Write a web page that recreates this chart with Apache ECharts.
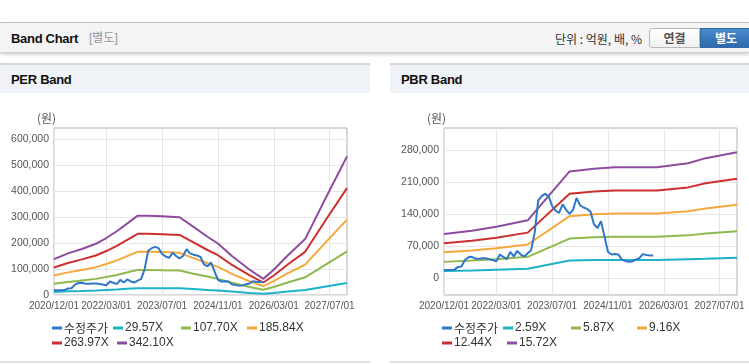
<!DOCTYPE html>
<html><head><meta charset="utf-8">
<script src="https://cdn.jsdelivr.net/npm/echarts@6/dist/echarts.min.js"></script>
<style>
html,body{margin:0;padding:0;background:#fff;}
body{width:749px;height:364px;overflow:hidden;position:relative;font-family:"Liberation Sans","Noto Sans CJK KR",sans-serif;}
.hdr{position:absolute;left:0;top:22px;width:749px;height:29px;background:#f4f4f4;border-top:1px solid #bdbdbd;border-bottom:1px solid #cfcfcf;box-shadow:0 2px 3px rgba(0,0,0,0.16);}
.ttl{position:absolute;left:11px;top:0;line-height:31px;font-size:13px;font-weight:bold;color:#111;letter-spacing:-0.3px;}
.sub{position:absolute;left:89px;top:0;line-height:31px;font-size:12px;color:#999;}
.unit{position:absolute;right:107px;top:0;line-height:31px;font-size:12px;color:#333;font-family:"Noto Sans CJK KR","Liberation Sans",sans-serif;}
.btn{position:absolute;top:5px;height:20px;box-sizing:border-box;text-align:center;line-height:18px;font-size:12px;font-weight:bold;font-family:"Noto Sans CJK KR",sans-serif;}
.b1{left:649px;width:51px;border:1px solid #b9b9b9;border-radius:3px 0 0 3px;background:linear-gradient(#ffffff,#f1f1f1);color:#555;}
.b2{left:700px;width:52px;border:1px solid #2f6aa9;background:linear-gradient(#4a8acd,#2c69ad);color:#fff;}
.panel{position:absolute;top:63px;width:370px;height:296px;border-top:2px solid #d6d6d6;border-bottom:2px solid #e0e0e0;background:#fff;}
.phead{position:absolute;left:0;top:0;width:370px;height:28px;background:#eff2f7;font-weight:bold;font-size:13px;line-height:29px;color:#111;letter-spacing:-0.3px;}
.phead span{padding-left:11px;}
.chart{position:absolute;left:0;top:28px;width:370px;height:268px;}
</style>
</head>
<body>
<div class="hdr">
  <span class="ttl">Band Chart</span><span class="sub">[별도]</span>
  <span class="unit">단위 : 억원, 배, %</span>
  <div class="btn b1">연결</div><div class="btn b2">별도</div>
</div>
<div class="panel" style="left:0;"><div class="phead"><span>PER Band</span></div><div class="chart" id="per"></div></div>
<div class="panel" style="left:390px;"><div class="phead"><span>PBR Band</span></div><div class="chart" id="pbr"></div></div>
<script>
// ---- categories (monthly) ----
const months = [
 '2020/12/01',
 '2021/01/01','2021/02/01','2021/03/01','2021/04/01','2021/05/01','2021/06/01','2021/07/01','2021/08/01','2021/09/01','2021/10/01','2021/11/01','2021/12/01',
 '2022/01/01','2022/02/01','2022/03/01','2022/04/01','2022/05/01','2022/06/01','2022/07/01','2022/08/01','2022/09/01','2022/10/01','2022/11/01','2022/12/01',
 '2023/01/01','2023/02/01','2023/03/01','2023/04/01','2023/05/01','2023/06/01','2023/07/01','2023/08/01','2023/09/01','2023/10/01','2023/11/01','2023/12/01',
 '2024/01/01','2024/02/01','2024/03/01','2024/04/01','2024/05/01','2024/06/01','2024/07/01','2024/08/01','2024/09/01','2024/10/01','2024/11/01','2024/12/01',
 '2025/01/01','2025/02/01','2025/03/01','2025/04/01','2025/05/01','2025/06/01','2025/07/01','2025/08/01','2025/09/01','2025/10/01','2025/11/01','2025/12/01',
 '2026/01/01','2026/02/01','2026/03/01','2026/04/01','2026/05/01','2026/06/01','2026/07/01','2026/08/01','2026/09/01','2026/10/01','2026/11/01','2026/12/01',
 '2027/01/01','2027/02/01','2027/03/01','2027/04/01','2027/05/01','2027/06/01','2027/07/01','2027/08/01','2027/09/01','2027/10/01','2027/11/01','2027/12/01'
];
const xTickLabels = ['2020/12/01','2022/03/01','2023/07/01','2024/11/01','2026/03/01','2027/07/01'];

// ---- adjusted price (수정주가), monthly from 2020/12 ----
const price = [18000,18000,18000,19000,25000,26000,40000,46000,47000,43000,
  43000,44000,44000,42000,40000,37000,52000,47000,42000,58000,
  48000,60000,52000,48000,55000,62000,100000,170000,180000,185000,
  180000,158000,148000,143000,162000,150000,141000,150000,176000,160000,
  155000,152000,146000,118000,110000,125000,92000,58000,52000,53000,
  52000,41000,38000,36000,37000,41000,44000,53000,51000,50000,50000];

// ---- PER band ----
const perNames = ['29.57X','107.70X','185.84X','263.97X','342.10X'];
const perKnotDates = ['2020/12/01','2021/04/01','2021/08/01','2021/12/01','2022/03/01','2022/06/01','2022/10/01','2022/12/01','2023/03/01','2023/07/01','2023/12/01','2024/04/01','2024/08/01','2024/11/01','2025/03/01','2025/08/01','2025/12/01','2026/03/01','2026/07/01','2026/12/01','2027/06/01','2027/12/01'];
const per30  = [12000,14000,15000,17000,19000,21000,25000,26000,26000,26000,26000,23000,19000,17000,13000,8000,5000,8000,13000,19000,33000,46000];
const per108 = [43000,50000,56000,62000,69000,77000,90000,96000,96000,95000,94000,82000,71000,62000,47000,31000,20000,31000,48000,68000,118000,168000];
const per186 = [75000,87000,96000,107000,119000,133000,155000,166000,166000,165000,162000,142000,122000,108000,81000,53000,34000,53000,83000,117000,204000,290000];
const per264 = [106000,123000,137000,152000,169000,189000,220000,235000,235000,234000,231000,202000,173000,153000,116000,76000,48000,75000,117000,166000,290000,411000];
const per342 = [138000,160000,177000,197000,219000,245000,285000,305000,305000,303000,299000,262000,224000,198000,150000,98000,62000,97000,152000,215000,376000,533000];
const perYTicks = [0,100000,200000,300000,400000,500000,600000];

// ---- PBR band ----
const pbrNames = ['2.59X','5.87X','9.16X','12.44X','15.72X'];
const pbrKnotDates = ['2020/12/01','2021/08/01','2022/03/01','2022/12/01','2023/12/01','2024/07/01','2025/01/01','2026/01/01','2026/10/01','2027/03/01','2027/12/01'];
const pbr259  = [16000,17000,19000,21000,39000,40000,40000,40000,42000,43000,45000];
const pbr587  = [36000,39000,42000,47000,87000,90000,91000,91000,94000,98000,103000];
const pbr916  = [57000,61000,66000,74000,136000,140000,142000,142000,147000,153000,161000];
const pbr1244 = [77000,82000,89000,100000,185000,190000,192000,192000,199000,208000,218000];
const pbr1572 = [97000,104000,113000,127000,234000,240000,243000,243000,252000,263000,276000];
const pbrYTicks = [0,70000,140000,210000,280000];

const priceName = '수정주가';
const bandColors = ['#1cb2c8','#8db84e','#f5a83c','#cf2e2e','#8e4c9e'];
const priceColor = '#2f78c9';
const FONT = '"Liberation Sans", Arial, sans-serif';
const KFONT = '"Noto Sans CJK KR", "Liberation Sans", sans-serif';

function zip(dates, vals){ return dates.map((d,i)=>[d, vals[i]]); }

function build(names, dates, bands, yMin, yMax, yTicks){
  const tickSet = new Set(xTickLabels);
  const series = bands.map((b,i)=>({
    name: names[i], type:'line', data: zip(dates,b), showSymbol:false, symbol:'none',
    lineStyle:{width:2, color:bandColors[i]}, itemStyle:{color:bandColors[i]}, z:2
  }));
  series.push({name:priceName, type:'line', data: price, showSymbol:false, symbol:'none',
    lineStyle:{width:2, color:priceColor}, itemStyle:{color:priceColor}, z:3});
  const legendItems = [priceName].concat(names);
  const pos = [[52,229],[113,229],[181,229],[247,229],[52,244],[117,244]];
  const legends = legendItems.map((n,i)=>({
    data:[n], left:pos[i][0], top:pos[i][1], icon:'rect', itemWidth:10, itemHeight:3,
    itemGap:0, padding:0, selectedMode:false,
    textStyle:{fontSize:12, color:'#333', fontFamily: i===0?KFONT:FONT, padding:[0,0,0,-3]}
  }));
  return {
    animation:false,
    title:{text:'(원)', left:37, top:19, padding:0, textStyle:{fontSize:12, fontWeight:'normal', color:'#555', fontFamily:KFONT}},
    legend: legends,
    grid:{left:54, top:35, width:293, height:167, show:true, borderColor:'#b0b0b0', borderWidth:1, backgroundColor:'transparent', containLabel:false},
    xAxis:{type:'category', data:months, boundaryGap:false,
      axisLine:{show:false}, axisTick:{show:false},
      axisLabel:{interval:(i,v)=>tickSet.has(v), showMinLabel:true, showMaxLabel:true, hideOverlap:false,
        margin:6, fontSize:10, color:'#555', fontFamily:FONT},
      splitLine:{show:true, interval:(i,v)=>tickSet.has(v), lineStyle:{color:'#e6e6e6', width:1}}},
    yAxis:{type:'value', min:yMin, max:yMax,
      axisLine:{show:false}, axisTick:{show:false, customValues:yTicks},
      axisLabel:{customValues:yTicks, margin:5, fontSize:10.5, color:'#555', fontFamily:FONT,
        formatter:v=>Number(v).toLocaleString('en-US')},
      splitLine:{show:true, lineStyle:{color:'#e6e6e6', width:1}}},
    series: series
  };
}

const perChart = echarts.init(document.getElementById('per'), null, {renderer:'canvas'});
perChart.setOption(build(perNames, perKnotDates, [per30,per108,per186,per264,per342], 0, 642000, perYTicks));
const pbrChart = echarts.init(document.getElementById('pbr'), null, {renderer:'canvas'});
pbrChart.setOption(build(pbrNames, pbrKnotDates, [pbr259,pbr587,pbr916,pbr1244,pbr1572], -36500, 329000, pbrYTicks));
</script>
</body></html>
